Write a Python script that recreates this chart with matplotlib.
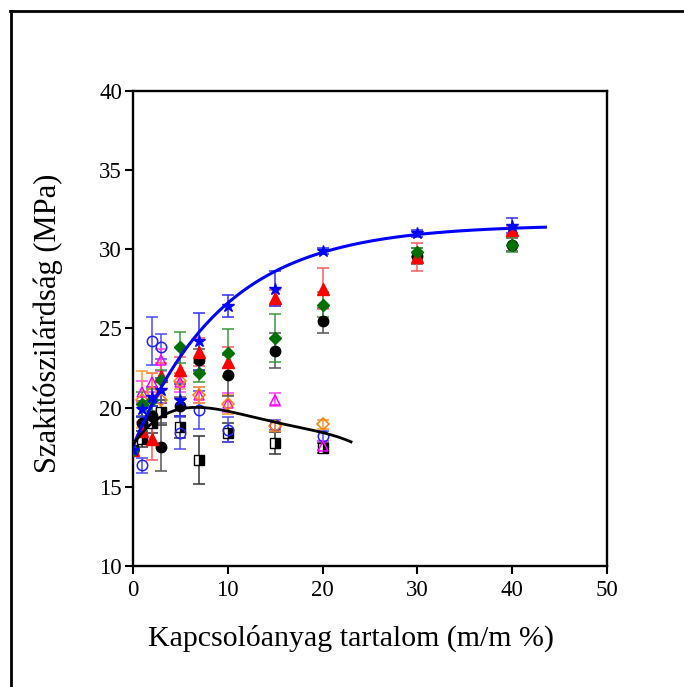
import numpy as np
import matplotlib
matplotlib.use("Agg")
import matplotlib.pyplot as plt
from matplotlib.lines import Line2D

plt.rcParams['font.family'] = ['Liberation Serif', 'DejaVu Serif']

x_full = [0, 1, 2, 3, 5, 7, 10, 15, 20, 30, 40]
x_short = [0, 1, 2, 3, 5, 7, 10, 15, 20]

star_y = [17.3, 19.9, 20.7, 21.1, 20.5, 24.2, 26.4, 27.5, 29.9, 31.0, 31.5]
star_e = [0.3, 0.5, 0.6, 0.8, 1.0, 1.8, 0.7, 1.1, 0.2, 0.2, 0.5]
circ_y = [17.3, 19.0, 19.5, 17.5, 20.1, 23.0, 22.05, 23.6, 25.5, 29.6, 30.3]
circ_e = [0.3, 0.5, 0.6, 1.5, 0.6, 0.7, 1.3, 1.1, 0.8, 0.5, 0.4]
tri_y = [17.3, 18.5, 18.0, 22.0, 22.4, 23.5, 22.9, 26.9, 27.5, 29.5, 31.2]
tri_e = [0.3, 0.6, 1.3, 0.8, 0.8, 0.9, 0.9, 0.5, 1.3, 0.9, 0.3]
dia_y = [17.3, 20.2, 20.5, 21.75, 23.8, 22.2, 23.45, 24.4, 26.5, 29.8, 30.3]
dia_e = [0.3, 0.8, 0.7, 0.6, 1.0, 0.6, 1.5, 1.5, 0.8, 0.3, 0.5]

odia_y = [17.3, 20.5, 21.0, 20.5, 21.7, 20.8, 20.2, 18.85, 18.95]
odia_e = [0.3, 1.8, 1.2, 0.6, 0.5, 0.5, 0.6, 0.3, 0.3]
otri_y = [17.3, 21.0, 21.6, 23.0, 21.6, 20.8, 20.3, 20.5, 17.6]
otri_e = [0.3, 0.7, 0.6, 0.7, 0.6, 0.5, 0.6, 0.4, 0.3]
ocirc_y = [17.3, 16.35, 24.2, 23.85, 18.4, 19.85, 18.6, 18.9, 18.2]
ocirc_e = [0.3, 0.5, 1.5, 0.8, 1.0, 1.2, 0.8, 0.3, 0.3]
sq_y = [17.3, 18.0, 19.0, 19.7, 18.8, 16.7, 18.4, 17.75, 17.45]
sq_e = [0.3, 0.5, 0.6, 0.8, 0.7, 1.5, 0.6, 0.7, 0.3]

# fitted trend lines
blue_plateau, blue_amp, blue_rate, blue_xmax = 31.55, 14.0, 9.6, 43.5
black_curve_x = [0, 1, 2.5, 5, 7, 10, 15, 20, 23]
black_curve_y = [17.6, 18.5, 19.3, 19.85, 20.0, 19.8, 19.1, 18.4, 17.85]

fig = plt.figure(figsize=(6.84, 6.87), dpi=100)
ax = fig.add_axes([133/684, 1-566/687, 474/684, 475/687])

# figure frame (left and top)
fig.add_artist(Line2D([11/684, 11/684], [0, 1-11/687], color='black', lw=2, transform=fig.transFigure))
fig.add_artist(Line2D([10/684, 1], [1-11/687, 1-11/687], color='black', lw=2, transform=fig.transFigure))

ms = 7.5
def eb(x, y, e, ecolor, **kw):
    ax.errorbar(x, y, yerr=e, fmt='none', ecolor=ecolor, elinewidth=1.1, capsize=4, capthick=1.1, zorder=2)
    ax.plot(x, y, linestyle='none', zorder=3, **kw)

eb(x_short, sq_y, sq_e, '#333333', marker='s', ms=6.5, color='black', fillstyle='right',
   markerfacecoloralt='white', markeredgecolor='black', markeredgewidth=1)
eb(x_short, ocirc_y, ocirc_e, '#4a4aff', marker='o', ms=ms, markerfacecolor='none', markeredgecolor='#2020ff', markeredgewidth=1.1)
eb(x_short, otri_y, otri_e, '#ff40ff', marker='^', ms=ms, markerfacecolor='none', markeredgecolor='#ff00ff', markeredgewidth=1.1)
eb(x_short, odia_y, odia_e, '#ff9a30', marker='D', ms=6.5, markerfacecolor='none', markeredgecolor='#ff8000', markeredgewidth=1.1)
eb(x_full, circ_y, circ_e, '#555555', marker='o', ms=ms, color='black')
eb(x_full, tri_y, tri_e, '#ff5a5a', marker='^', ms=ms + 0.5, color='#ff0000')
eb(x_full, dia_y, dia_e, '#3a9a3a', marker='D', ms=6.5, color='#007000', markeredgecolor='#007000')
eb(x_full, star_y, star_e, '#3030ff', marker='*', ms=9, color='#0000ff')

xb = np.linspace(0, blue_xmax, 200)
ax.plot(xb, blue_plateau - blue_amp*np.exp(-xb/blue_rate), color='#0000ff', lw=2.2, zorder=4)
coef = np.polyfit(black_curve_x, black_curve_y, 4)
xk = np.linspace(black_curve_x[0], black_curve_x[-1], 200)
ax.plot(xk, np.polyval(coef, xk), color='black', lw=2, zorder=4)

ax.set_xlim(0, 50)
ax.set_ylim(10, 40)
ax.set_xticks([0, 10, 20, 30, 40, 50])
ax.set_yticks([10, 15, 20, 25, 30, 35, 40])
for s in ax.spines.values():
    s.set_linewidth(1.7)
ax.tick_params(direction='out', length=6, width=1.5, labelsize=16.5, top=False, right=False)
ax.tick_params(axis='x', pad=4)
ax.tick_params(axis='y', pad=2)

fig.text(351/684, 1-638/687, 'Kapcsolóanyag tartalom (m/m %)', ha='center', va='center', fontsize=21.5)
fig.text(48/684, 1-323/687, 'Szakítószilárdság (MPa)', ha='center', va='center', rotation=90, fontsize=22)

fig.savefig('out.png', dpi=100, facecolor='white')
